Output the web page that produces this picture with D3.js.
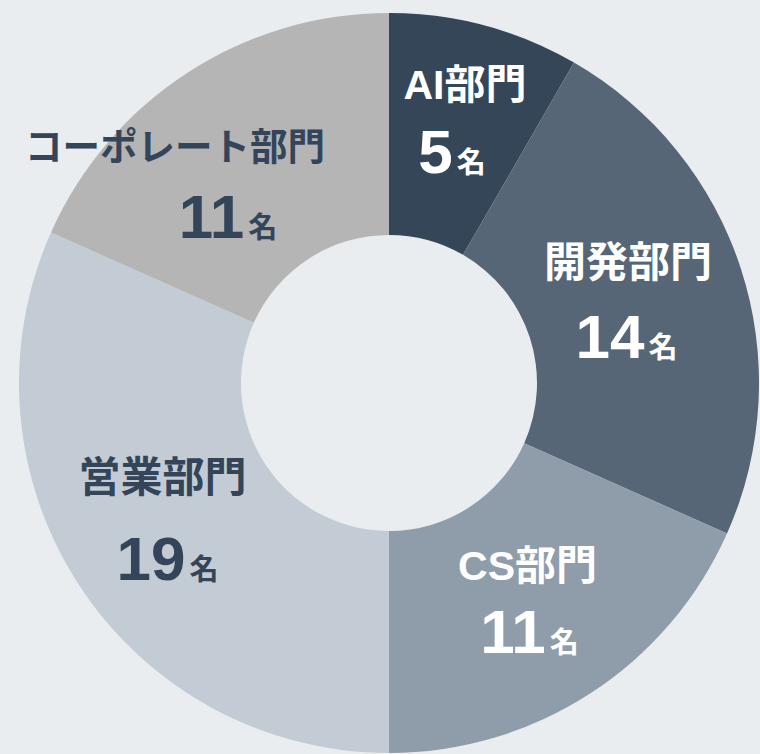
<!DOCTYPE html>
<html lang="ja">
<head>
<meta charset="utf-8">
<script src="https://cdn.jsdelivr.net/npm/d3@7"></script>
<style>
  html, body { margin: 0; padding: 0; background: #e9edf0; }
  svg { display: block; }
  text { font-weight: bold; }
</style>
</head>
<body>
<svg id="chart" width="760" height="754"></svg>
<script>
// 部門別の人数
const departments = ["AI部門", "開発部門", "CS部門", "営業部門", "コーポレート部門"];
const headcounts  = [5, 14, 11, 19, 11];
const unitLabel   = "名";

// 表示設定
const sliceColors = ["#364659", "#566677", "#8f9dab", "#c3ccd4", "#b5b5b5"];
const textColors  = ["#ffffff", "#ffffff", "#ffffff", "#34455a", "#34455a"];
const titleSizes  = [41, 42, 41, 42, 37.5];
// ラベル位置の微調整 [部門名 dx, dy, 人数 dx, dy]（扇形の重心からのずれ）
const labelNudges = [
  [8.7, -32.4, -4.3, 41.1],
  [-8.3, -25.7, -9.8, 55.3],
  [-3.1, -20.6, -1.1, 51.9],
  [-8.4, -32.6, -3.4, 55.4],
  [-72.4, -4.9, -19.4, 73.1]
];

const W = 760, H = 754;
const cx = 389, cy = 383;
const outerR = 370, innerR = 148, labelR = 260;

const data = departments.map((name, i) => ({ name, value: headcounts[i], i }));

const svg = d3.select("#chart");
svg.append("rect").attr("width", W).attr("height", H).attr("fill", "#e9edf0");

const g = svg.append("g").attr("transform", `translate(${cx},${cy})`);

const pie = d3.pie().value(d => d.value).sort(null).startAngle(0).endAngle(2 * Math.PI);
const arc = d3.arc().innerRadius(innerR).outerRadius(outerR);
const labelArc = d3.arc().innerRadius(labelR).outerRadius(labelR);

const arcs = pie(data);

g.selectAll("path.slice")
  .data(arcs)
  .join("path")
  .attr("class", "slice")
  .attr("d", arc)
  .attr("fill", d => sliceColors[d.data.i]);

const labels = g.selectAll("g.label")
  .data(arcs)
  .join("g")
  .attr("class", "label")
  .attr("transform", d => {
    const [x, y] = labelArc.centroid(d);
    return `translate(${x},${y})`;
  });

labels.append("text")
  .attr("x", d => labelNudges[d.data.i][0])
  .attr("y", d => labelNudges[d.data.i][1])
  .attr("text-anchor", "middle")
  .attr("fill", d => textColors[d.data.i])
  .style("font-family", "'Liberation Sans', 'Noto Sans CJK JP', sans-serif")
  .style("font-size", d => titleSizes[d.data.i] + "px")
  .text(d => d.data.name);

const num = labels.append("text")
  .attr("x", d => labelNudges[d.data.i][2])
  .attr("y", d => labelNudges[d.data.i][3])
  .attr("text-anchor", "middle")
  .attr("fill", d => textColors[d.data.i]);

num.append("tspan")
  .style("font-family", "'Liberation Sans', sans-serif")
  .style("font-size", "62px")
  .text(d => d.data.value);

num.append("tspan")
  .attr("dx", 4)
  .style("font-family", "'Noto Sans CJK JP', sans-serif")
  .style("font-size", "29px")
  .text(unitLabel);
</script>
</body>
</html>
